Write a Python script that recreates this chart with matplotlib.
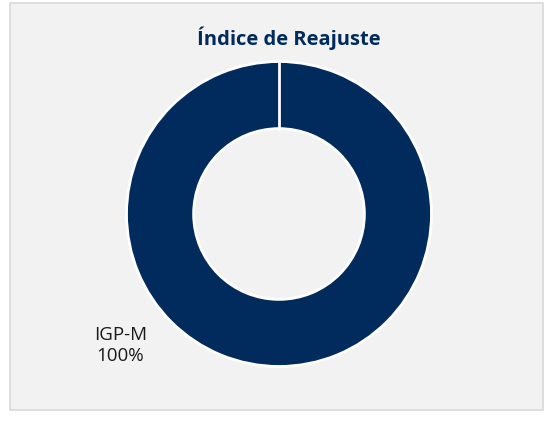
import matplotlib
matplotlib.use("Agg")
import matplotlib.pyplot as plt
from matplotlib.patches import Rectangle

# data
categories = ["IGP-M"]
values = [100]
colors = ["#002B5C"]
title = "Índice de Reajuste"

plt.rcParams['font.family'] = ['Open Sans', 'DejaVu Sans']

fig = plt.figure(figsize=(5.51, 4.24), dpi=100)
fig.patch.set_facecolor("white")

# light gray chart area with border (behind the axes)
bg = Rectangle((10/551, 14/424), 533/551, 407/424, transform=fig.transFigure,
               facecolor="#F2F2F2", edgecolor="#D9D9D9", linewidth=1.2, zorder=-10)
fig.patches.append(bg)

# donut axes: centre at (279, 214) px, radius 153 px
cx, cy, r = 279, 214, 154
ax = fig.add_axes([(cx - r) / 551, (424 - cy - r) / 424, 2 * r / 551, 2 * r / 424])
ax.set_facecolor("none")
ax.pie(values, colors=colors, startangle=90, counterclock=False, radius=1.0,
       wedgeprops=dict(width=0.44, edgecolor="white", linewidth=2))
ax.set_xlim(-1.01, 1.01)
ax.set_ylim(-1.01, 1.01)
ax.set_aspect("equal")
ax.axis("off")

# white seam at top of the ring
ax.plot([0, 0], [0.56, 1.0], color="white", linewidth=2)

pct = 100 * values[0] / sum(values)
ax.text((119 - cx) / r, (cy - 347) / r, "%s\n%d%%" % (categories[0], pct),
        ha="center", va="center", fontsize=13.5, color="#1a1a1a", linespacing=1.2)

fig.text(289 / 551, 1 - 38 / 424, title, ha="center", va="center",
         fontsize=14.5, fontweight="bold", color="#002B5C")

fig.savefig("out.png", dpi=100)
